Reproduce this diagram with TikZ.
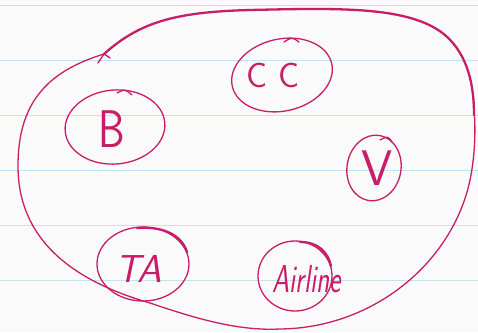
\documentclass[tikz,border=0pt]{standalone}
\definecolor{pen}{RGB}{200,30,105}
\definecolor{ruleblue}{RGB}{196,226,240}
\definecolor{paper}{RGB}{250,250,250}
\begin{document}
\begin{tikzpicture}[x=1pt,y=-1pt,
  penline/.style={draw=pen,line width=1.3pt,line cap=round,line join=round},
  penthick/.style={draw=pen,line width=2.3pt,line cap=round,line join=round},
  lbl/.style={text=pen,inner sep=0pt,anchor=base}]
\fill[paper] (0,0) rectangle (478,332);
\useasboundingbox (0,0) rectangle (478,332);
\foreach \y in {5,60,115,170,225,280} \draw[ruleblue,line width=1pt] (0,\y) -- (478,\y);
% big blob
\coordinate (s) at (104,54);
\draw[penline] (s) .. controls (45,72) and (18,105) .. (18,166)
  .. controls (18,238) and (70,280) .. (150,303)
  .. controls (200,320) and (240,331) .. (280,329)
  .. controls (370,328) and (445,268) .. (467,192)
  .. controls (475,165) and (476,130) .. (474,110);
\draw[penthick] (s) .. controls (140,22) and (175,12) .. (250,10)
  .. controls (340,8) and (410,6) .. (445,35)
  .. controls (468,55) and (474,85) .. (474,115);
\draw[penline] (98,63) -- (s) -- (110,58);
% ellipses
\draw[penline,rotate around={13:(282,75)}] (282,75) ellipse [x radius=51,y radius=36];
\draw[penline,rotate around={5:(115,127)}] (115,127) ellipse [x radius=50,y radius=37];
\draw[penline,rotate around={-10:(374,168)}] (374,168) ellipse [x radius=27,y radius=33];
\draw[penline] (143,264) ellipse [x radius=46,y radius=37];
\draw[penline] (295,276) ellipse [x radius=37,y radius=35];
% pen-start hooks
\draw[penline] (117,93) .. controls (125,89) .. (132,95);
\draw[penline] (284,42) .. controls (292,37) .. (299,42);
\draw[penline] (380,140) .. controls (388,136) .. (392,142);
\draw[penthick] (137,228) .. controls (165,226) and (182,236) .. (187,252);
\draw[penthick] (300,242) .. controls (318,242) and (328,252) .. (331,266);
% labels
\node[lbl,font=\sffamily\fontsize{35}{35}\selectfont] (cc) at (273,87) {C\,\,C};
\node[lbl,font=\sffamily\fontsize{53}{53}\selectfont,xscale=0.8] (b) at (112,147) {B};
\node[lbl,font=\sffamily\fontsize{50}{50}\selectfont] (v) at (377,185) {V};
\node[lbl,font=\sffamily\slshape\fontsize{39}{39}\selectfont] (ta) at (139,282) {TA};
\node[lbl,font=\sffamily\slshape\fontsize{39}{39}\selectfont,xscale=0.7] (air) at (307,292) {Airline};
\end{tikzpicture}
\end{document}
